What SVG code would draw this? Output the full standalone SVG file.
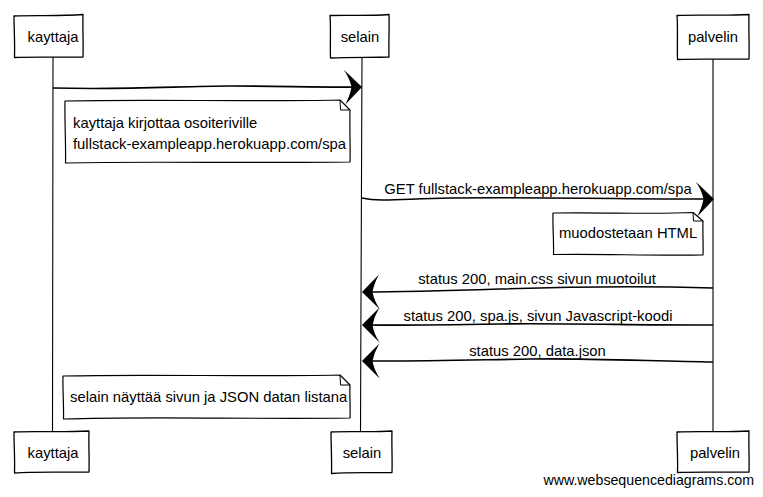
<svg xmlns="http://www.w3.org/2000/svg" width="763" height="497" viewBox="0 0 763 497">
<style>
  text { font-family: "Liberation Sans", Arial, sans-serif; font-size: 14.8px; fill: #000; }
  .box { fill: #fff; stroke: #000; stroke-width: 1.3; stroke-linejoin: round; }
  .life { fill: none; stroke: #000; stroke-width: 1.1; }
  .msg { fill: none; stroke: #000; stroke-width: 1.6; marker-end: url(#arr); }
  .note { fill: #fff; stroke: #000; stroke-width: 1.2; stroke-linejoin: round; }
  .fold { fill: none; stroke: #000; stroke-width: 1; }
  .mid { text-anchor: middle; }
  .foot { font-size: 14.2px; text-anchor: end; }
</style>
<defs>
  <marker id="arr" viewBox="0 0 20 36" refX="19" refY="18" markerWidth="20" markerHeight="36" markerUnits="userSpaceOnUse" orient="auto">
    <path d="M20,18 L2,0.5 Q8,9.5 9.5,18 Q8,26.5 3,35.5 Z" fill="#000"/>
  </marker>
</defs>

<g id="lifelines">
  <path class="life" d="M53,57 C53.5,150 52.5,300 52.5,431"/>
  <path class="life" d="M362,57 C361.5,150 361,300 360.5,431"/>
  <path class="life" d="M713,58 C713.5,200 712.5,330 713,431"/>
</g>

<g id="kayttaja-top">
  <path class="box" d="M14,16 C35,15 60,16.5 83,14.5 C82.5,28 83.5,43 83,57 C60,57.5 35,56.5 14.5,57.5 C15,43 14,28 14,16 Z"/>
  <text class="mid" x="53" y="42">kayttaja</text>
</g>
<g id="selain-top">
  <path class="box" d="M330,15.5 C350,15 370,16 389,14.5 C389.5,28 388.5,44 389,57 C370,57.5 350,57 330.5,58 C330,44 331,28 330,15.5 Z"/>
  <text class="mid" x="360" y="42">selain</text>
</g>
<g id="palvelin-top">
  <path class="box" d="M677,15.5 C700,14.5 725,16 749,14.5 C748.5,28 749.5,44 749,59 C725,59.5 700,58.5 677.5,59.5 C677,44 678,28 677,15.5 Z"/>
  <text class="mid" x="713" y="42">palvelin</text>
</g>

<g id="kayttaja-bottom">
  <path class="box" d="M14,432 C35,431 60,432.5 89,431 C88.5,445 89.5,460 89,472 C60,472.5 35,471.5 14.5,473 C15,460 14,445 14,432 Z"/>
  <text class="mid" x="53" y="458">kayttaja</text>
</g>
<g id="selain-bottom">
  <path class="box" d="M331,432 C350,431 372,432.5 392,431 C391.5,445 392.5,460 392,472.5 C372,473 350,472 331.5,473.5 C332,460 331,445 331,432 Z"/>
  <text class="mid" x="362" y="458">selain</text>
</g>
<g id="palvelin-bottom">
  <path class="box" d="M677,432 C700,431 725,432.5 749,431 C748.5,445 749.5,460 749,472 C725,472.5 700,471.5 677.5,472.5 C678,460 677,445 677,432 Z"/>
  <text class="mid" x="715" y="458">palvelin</text>
</g>

<g id="note-osoiterivi">
  <path class="note" d="M65,101 C150,99 250,102 340,100 L350,110 C349.5,130 350.5,148 350,162 C250,163.5 150,161 65.5,163 C66,145 64.5,120 65,101 Z"/>
  <path class="fold" d="M340,100 L340.5,110 L350,110"/>
  <text x="73" y="128">kayttaja kirjottaa osoiteriville</text>
  <text x="73" y="149">fullstack-exampleapp.herokuapp.com/spa</text>
</g>

<g id="note-html">
  <path class="note" d="M553,213 C600,212 650,214.5 693,212.5 L703,221 C702.5,233 703.5,245 703,255 C650,256 600,253.5 553.5,254.5 C554,242 552.5,226 553,213 Z"/>
  <path class="fold" d="M693,212.5 L693.5,221 L703,221"/>
  <text x="559" y="238">muodostetaan HTML</text>
</g>

<g id="note-naytto">
  <path class="note" d="M63,376 C150,374 250,377 340,375 L350,385 C349.5,395 350.5,407 350,418 C250,419.5 150,416 63.5,419 C64,405 62.5,390 63,376 Z"/>
  <path class="fold" d="M340,375 L340.5,385 L350,385"/>
  <text x="70" y="402">selain näyttää sivun ja JSON datan listana</text>
</g>

<g id="connectors">
  <path class="msg" d="M53,88 C130,90 180,86 230,86 C280,86 320,87.5 361,87"/>
  <path class="msg" d="M362,198 C380,202 400,199 450,198 C550,197 650,199.5 713,199"/>
  <path class="msg" d="M713,288 C650,286 560,287 500,289 C440,291 400,292 363,292"/>
  <path class="msg" d="M713,325 C650,325.5 560,323 500,324 C440,325 400,325.5 363,325"/>
  <path class="msg" d="M713,362 C650,361 580,358 530,359 C470,360 420,361.5 363,361"/>
  <text class="mid" x="538" y="194">GET fullstack-exampleapp.herokuapp.com/spa</text>
  <text class="mid" x="537" y="284">status 200, main.css sivun muotoilut</text>
  <text class="mid" x="538" y="321">status 200, spa.js, sivun Javascript-koodi</text>
  <text class="mid" x="537.5" y="356">status 200, data.json</text>
</g>

<text class="foot" x="754" y="485">www.websequencediagrams.com</text>
</svg>
